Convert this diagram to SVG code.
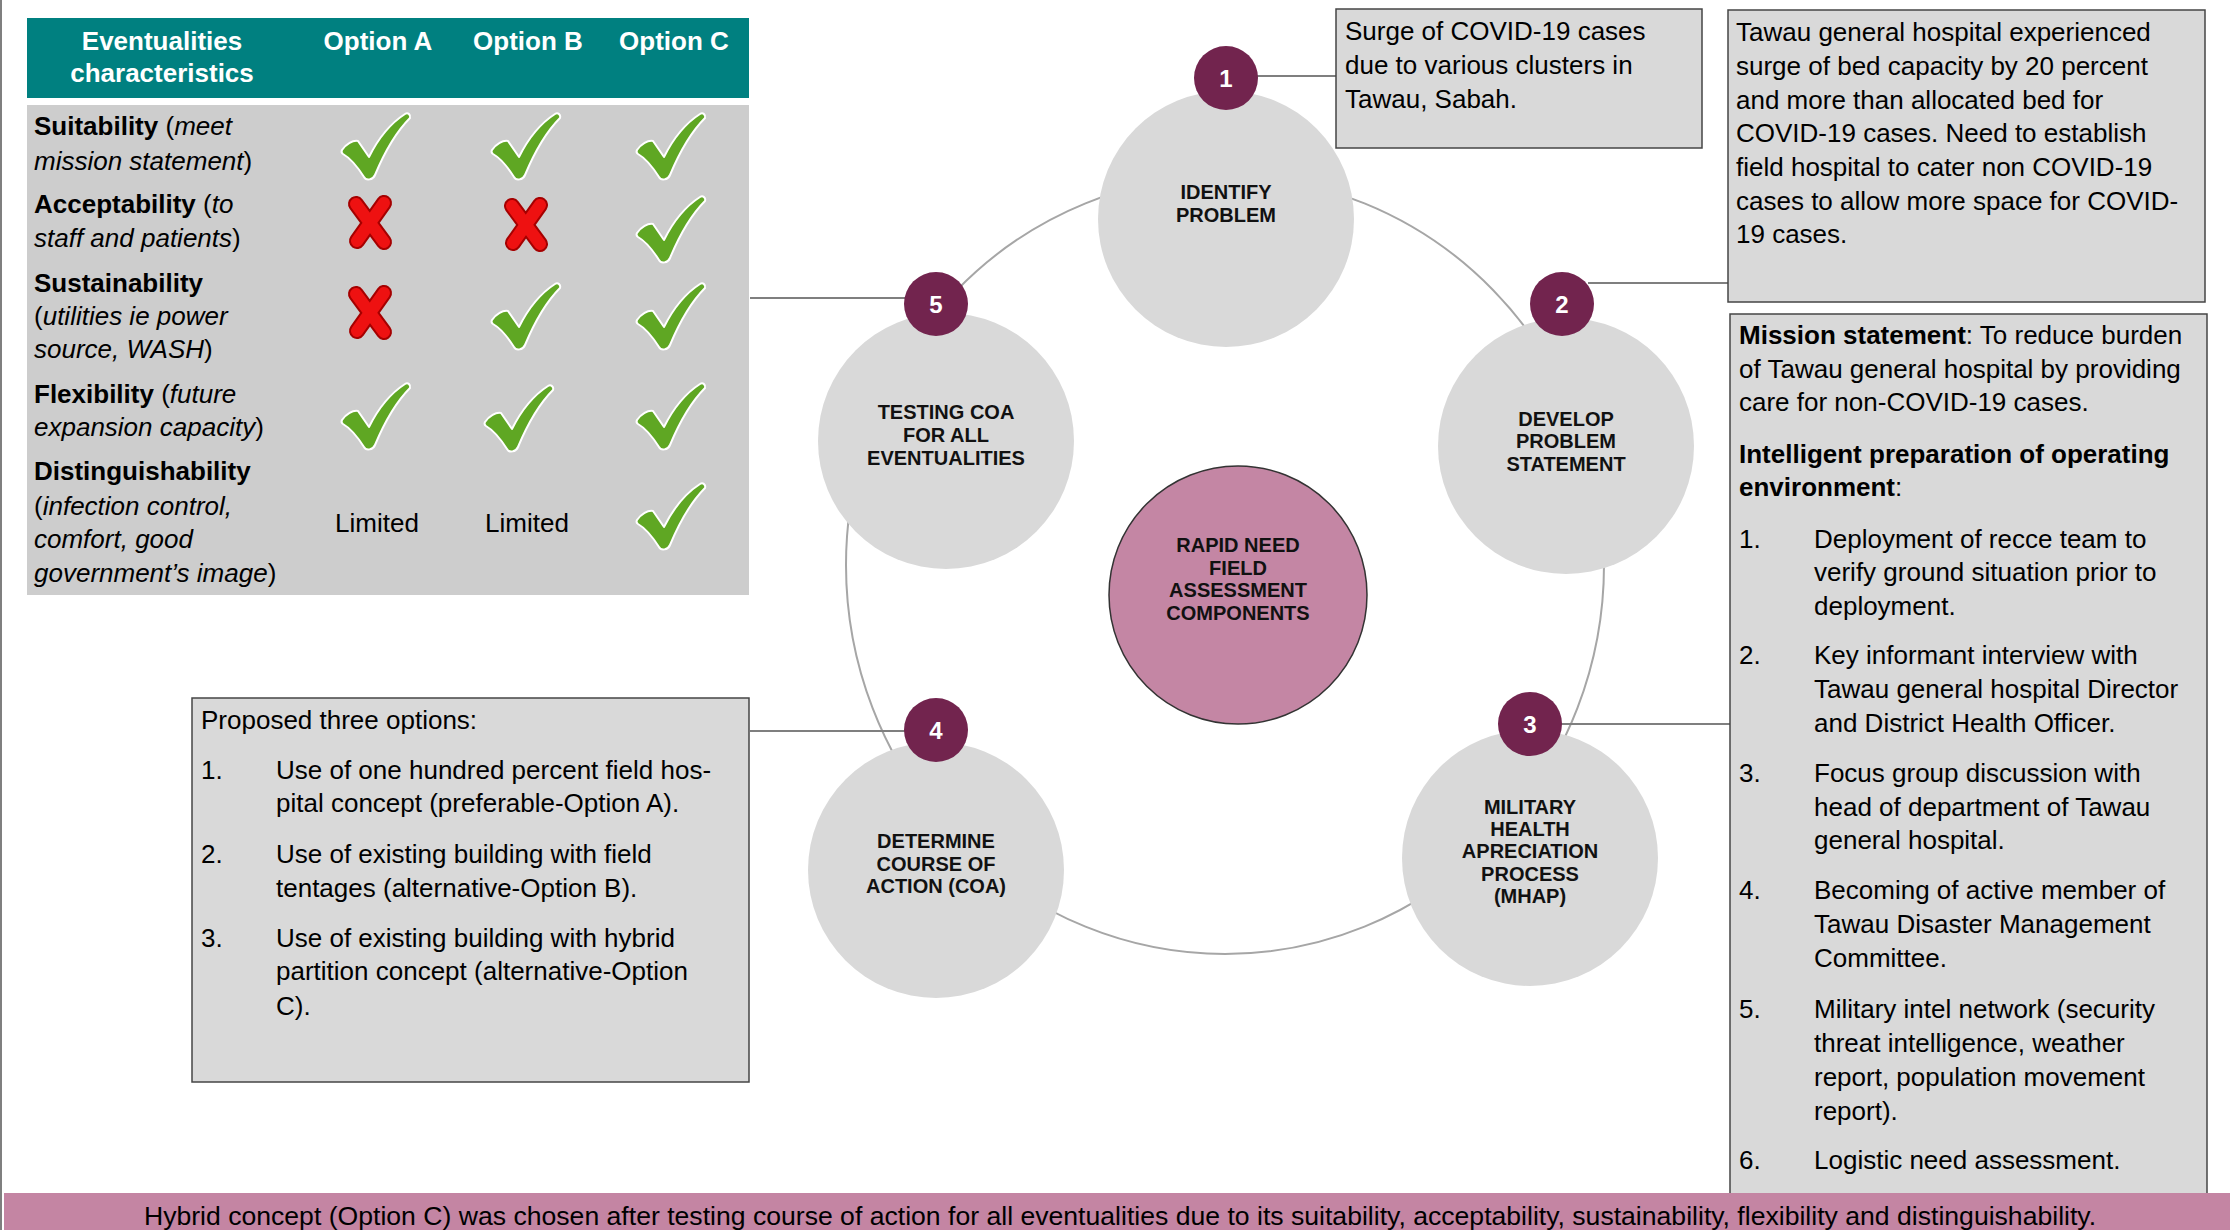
<svg xmlns="http://www.w3.org/2000/svg" xmlns:xlink="http://www.w3.org/1999/xlink" width="2230" height="1230" viewBox="0 0 2230 1230">
  <style>
    text { font-family: "Liberation Sans", Arial, Helvetica, sans-serif; fill: #000; }
    .t26 { font-size: 26px; }
    .hd { font-size: 26px; font-weight: bold; fill: #fff; text-anchor: middle; }
    .b { font-weight: bold; }
    .i { font-style: italic; }
    .lbl { font-size: 20px; font-weight: bold; text-anchor: middle; fill: #111; }
    .num { font-size: 24px; font-weight: bold; fill: #fff; text-anchor: middle; }
    .node { fill: #d9d9d9; }
    .badge { fill: #72244e; }
    .box { fill: #d9d9d9; stroke: #454545; stroke-width: 1.5; }
    .link { stroke: #7f7f7f; stroke-width: 2; fill: none; }
    .ring { stroke: #a6a6a6; stroke-width: 2; fill: none; }
  </style>
  <defs>
    <!-- green tick used in the comparison table -->
    <path id="check" d="M0 37 C4 31 11 27 16 28 L27 44 C36 26 49 10 63 1 C66 -1 69 2 68 5 C55 18 43 38 33 62 C31 67 24 68 22 64 C15 53 8 45 1 41 C-0.5 40 -0.5 38 0 37 Z" fill="#5fa723" stroke="#ffffff" stroke-width="2" stroke-linejoin="round"/>
    <!-- red cross used in the comparison table -->
    <g id="cross">
      <path d="M9 8 L37 46 M37 7 L10 45" stroke="#a50000" stroke-width="16" stroke-linecap="round" fill="none"/>
      <path d="M9 8 L37 46 M37 7 L10 45" stroke="#ee1111" stroke-width="12" stroke-linecap="round" fill="none"/>
    </g>
  </defs>

  <rect x="0" y="0" width="2230" height="1230" fill="#ffffff"/>
  <line x1="1" y1="0" x2="1" y2="1230" stroke="#555" stroke-width="1.5"/>

  <!-- connectors: ring behind the cycle and leader lines to the text boxes -->
  <g id="connectors">
    <ellipse class="ring" cx="1225" cy="565" rx="379" ry="389"/>
    <line class="link" x1="1256" y1="76" x2="1336" y2="76"/>
    <line class="link" x1="1588" y1="283" x2="1728" y2="283"/>
    <line class="link" x1="1560" y1="724" x2="1730" y2="724"/>
    <line class="link" x1="750" y1="731" x2="906" y2="731"/>
    <line class="link" x1="750" y1="298" x2="906" y2="298"/>
  </g>

  <!-- evaluation table -->
  <g id="table">
    <rect x="27" y="18" width="722" height="80" fill="#008080"/>
    <rect x="27" y="105" width="722" height="490" fill="#cdcdcd"/>
    <text class="hd" x="162" y="50">Eventualities</text>
    <text class="hd" x="162" y="82">characteristics</text>
    <text class="hd" x="378" y="50">Option A</text>
    <text class="hd" x="528" y="50">Option B</text>
    <text class="hd" x="674" y="50">Option C</text>

    <text class="t26" x="34" y="135"><tspan class="b">Suitability</tspan> (<tspan class="i">meet</tspan></text>
    <text class="t26" x="34" y="170"><tspan class="i">mission statement</tspan>)</text>
    <text class="t26" x="34" y="213"><tspan class="b">Acceptability</tspan> (<tspan class="i">to</tspan></text>
    <text class="t26" x="34" y="247"><tspan class="i">staff and patients</tspan>)</text>
    <text class="t26" x="34" y="292"><tspan class="b">Sustainability</tspan></text>
    <text class="t26" x="34" y="325">(<tspan class="i">utilities ie power</tspan></text>
    <text class="t26" x="34" y="358"><tspan class="i">source, WASH</tspan>)</text>
    <text class="t26" x="34" y="403"><tspan class="b">Flexibility</tspan> (<tspan class="i">future</tspan></text>
    <text class="t26" x="34" y="436"><tspan class="i">expansion capacity</tspan>)</text>
    <text class="t26" x="34" y="480"><tspan class="b">Distinguishability</tspan></text>
    <text class="t26" x="34" y="515">(<tspan class="i">infection control,</tspan></text>
    <text class="t26" x="34" y="548"><tspan class="i">comfort, good</tspan></text>
    <text class="t26" x="34" y="582"><tspan class="i">government’s image</tspan>)</text>

    <use xlink:href="#check" x="342" y="113"/>
    <use xlink:href="#check" x="492" y="113"/>
    <use xlink:href="#check" x="637" y="113"/>
    <use xlink:href="#cross" x="347" y="196"/>
    <use xlink:href="#cross" x="503" y="198"/>
    <use xlink:href="#check" x="637" y="196"/>
    <use xlink:href="#cross" x="347" y="286"/>
    <use xlink:href="#check" x="492" y="283"/>
    <use xlink:href="#check" x="637" y="283"/>
    <use xlink:href="#check" x="342" y="383"/>
    <use xlink:href="#check" x="485" y="385"/>
    <use xlink:href="#check" x="637" y="383"/>
    <text class="t26" x="377" y="532" text-anchor="middle">Limited</text>
    <text class="t26" x="527" y="532" text-anchor="middle">Limited</text>
    <use xlink:href="#check" x="637" y="483"/>
  </g>

  <!-- cycle nodes -->
  <g id="node-1">
    <circle class="node" cx="1226" cy="219" r="128"/>
    <circle class="badge" cx="1226" cy="78" r="32"/>
    <text class="num" x="1226" y="87">1</text>
    <text class="lbl" x="1226" y="199">IDENTIFY</text>
    <text class="lbl" x="1226" y="222">PROBLEM</text>
  </g>
  <g id="node-2">
    <circle class="node" cx="1566" cy="446" r="128"/>
    <circle class="badge" cx="1562" cy="304" r="32"/>
    <text class="num" x="1562" y="313">2</text>
    <text class="lbl" x="1566" y="426">DEVELOP</text>
    <text class="lbl" x="1566" y="448">PROBLEM</text>
    <text class="lbl" x="1566" y="471">STATEMENT</text>
  </g>
  <g id="node-3">
    <circle class="node" cx="1530" cy="858" r="128"/>
    <circle class="badge" cx="1530" cy="724" r="32"/>
    <text class="num" x="1530" y="733">3</text>
    <text class="lbl" x="1530" y="814">MILITARY</text>
    <text class="lbl" x="1530" y="836">HEALTH</text>
    <text class="lbl" x="1530" y="858">APRECIATION</text>
    <text class="lbl" x="1530" y="881">PROCESS</text>
    <text class="lbl" x="1530" y="903">(MHAP)</text>
  </g>
  <g id="node-4">
    <circle class="node" cx="936" cy="870" r="128"/>
    <circle class="badge" cx="936" cy="730" r="32"/>
    <text class="num" x="936" y="739">4</text>
    <text class="lbl" x="936" y="848">DETERMINE</text>
    <text class="lbl" x="936" y="871">COURSE OF</text>
    <text class="lbl" x="936" y="893">ACTION (COA)</text>
  </g>
  <g id="node-5">
    <circle class="node" cx="946" cy="441" r="128"/>
    <circle class="badge" cx="936" cy="304" r="32"/>
    <text class="num" x="936" y="313">5</text>
    <text class="lbl" x="946" y="419">TESTING COA</text>
    <text class="lbl" x="946" y="442">FOR ALL</text>
    <text class="lbl" x="946" y="465">EVENTUALITIES</text>
  </g>
  <g id="node-center">
    <circle cx="1238" cy="595" r="129" fill="#c486a4" stroke="#333" stroke-width="1.5"/>
    <text class="lbl" x="1238" y="552">RAPID NEED</text>
    <text class="lbl" x="1238" y="575">FIELD</text>
    <text class="lbl" x="1238" y="597">ASSESSMENT</text>
    <text class="lbl" x="1238" y="620">COMPONENTS</text>
  </g>

  <!-- text boxes -->
  <g id="box-problem">
    <rect class="box" x="1336" y="9" width="366" height="139"/>
    <text class="t26" x="1345" y="40">Surge of COVID-19 cases</text>
    <text class="t26" x="1345" y="74">due to various clusters in</text>
    <text class="t26" x="1345" y="108">Tawau, Sabah.</text>
  </g>
  <g id="box-statement">
    <rect class="box" x="1728" y="10" width="477" height="292"/>
    <text class="t26" x="1736" y="41">Tawau general hospital experienced</text>
    <text class="t26" x="1736" y="75">surge of bed capacity by 20 percent</text>
    <text class="t26" x="1736" y="109">and more than allocated bed for</text>
    <text class="t26" x="1736" y="142">COVID-19 cases. Need to establish</text>
    <text class="t26" x="1736" y="176">field hospital to cater non COVID-19</text>
    <text class="t26" x="1736" y="210">cases to allow more space for COVID-</text>
    <text class="t26" x="1736" y="243">19 cases.</text>
  </g>
  <g id="box-mhap">
    <rect class="box" x="1730" y="314" width="477" height="900"/>
    <text class="t26" x="1739" y="344"><tspan class="b">Mission statement</tspan>: To reduce burden</text>
    <text class="t26" x="1739" y="378">of Tawau general hospital by providing</text>
    <text class="t26" x="1739" y="411">care for non-COVID-19 cases.</text>
    <text class="t26 b" x="1739" y="463">Intelligent preparation of operating</text>
    <text class="t26" x="1739" y="496"><tspan class="b">environment</tspan>:</text>
    <text class="t26" x="1739" y="548">1.</text>
    <text class="t26" x="1814" y="548">Deployment of recce team to</text>
    <text class="t26" x="1814" y="581">verify ground situation prior to</text>
    <text class="t26" x="1814" y="615">deployment.</text>
    <text class="t26" x="1739" y="664">2.</text>
    <text class="t26" x="1814" y="664">Key informant interview with</text>
    <text class="t26" x="1814" y="698">Tawau general hospital Director</text>
    <text class="t26" x="1814" y="732">and District Health Officer.</text>
    <text class="t26" x="1739" y="782">3.</text>
    <text class="t26" x="1814" y="782">Focus group discussion with</text>
    <text class="t26" x="1814" y="816">head of department of Tawau</text>
    <text class="t26" x="1814" y="849">general hospital.</text>
    <text class="t26" x="1739" y="899">4.</text>
    <text class="t26" x="1814" y="899">Becoming of active member of</text>
    <text class="t26" x="1814" y="933">Tawau Disaster Management</text>
    <text class="t26" x="1814" y="967">Committee.</text>
    <text class="t26" x="1739" y="1018">5.</text>
    <text class="t26" x="1814" y="1018">Military intel network (security</text>
    <text class="t26" x="1814" y="1052">threat intelligence, weather</text>
    <text class="t26" x="1814" y="1086">report, population movement</text>
    <text class="t26" x="1814" y="1120">report).</text>
    <text class="t26" x="1739" y="1169">6.</text>
    <text class="t26" x="1814" y="1169">Logistic need assessment.</text>
  </g>
  <g id="box-options">
    <rect class="box" x="192" y="698" width="557" height="384"/>
    <text class="t26" x="201" y="729">Proposed three options:</text>
    <text class="t26" x="201" y="779">1.</text>
    <text class="t26" x="276" y="779">Use of one hundred percent field hos-</text>
    <text class="t26" x="276" y="812">pital concept (preferable-Option A).</text>
    <text class="t26" x="201" y="863">2.</text>
    <text class="t26" x="276" y="863">Use of existing building with field</text>
    <text class="t26" x="276" y="897">tentages (alternative-Option B).</text>
    <text class="t26" x="201" y="947">3.</text>
    <text class="t26" x="276" y="947">Use of existing building with hybrid</text>
    <text class="t26" x="276" y="980">partition concept (alternative-Option</text>
    <text class="t26" x="276" y="1015">C).</text>
  </g>

  <!-- conclusion band -->
  <g id="conclusion">
    <rect x="4" y="1193" width="2226" height="37" fill="#c485a3"/>
    <text x="1120" y="1225" font-size="26.6" text-anchor="middle">Hybrid concept (Option C) was chosen after testing course of action for all eventualities due to its suitability, acceptability, sustainability, flexibility and distinguishability.</text>
  </g>
</svg>
